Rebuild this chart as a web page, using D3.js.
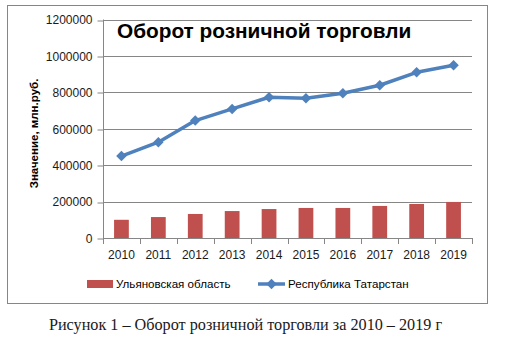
<!DOCTYPE html>
<html>
<head>
<meta charset="utf-8">
<script src="https://cdn.jsdelivr.net/npm/d3@7"></script>
<style>
  html, body { margin: 0; padding: 0; background: #fff; }
  svg { display: block; }
</style>
</head>
<body>
<svg id="chart" width="511" height="349"></svg>
<script>
// Retail turnover, mln rub.
const years = ["2010", "2011", "2012", "2013", "2014", "2015", "2016", "2017", "2018", "2019"];
const ulyanovsk = [100000, 115000, 132000, 148000, 159000, 165000, 165000, 176000, 187000, 198000];
const tatarstan = [450000, 526000, 645000, 709000, 773000, 768000, 795000, 839000, 910000, 949000];
const yTicks = [0, 200000, 400000, 600000, 800000, 1000000, 1200000];
const seriesNames = ["Ульяновская область", "Республика Татарстан"];

const barColor = "#C0504D";
const lineColor = "#4F81BD";
const gridColor = "#868686";
const sansFont = "'Liberation Sans', Arial, sans-serif";

const svg = d3.select("#chart");

// chart frame
svg.append("rect")
  .attr("x", 7.5).attr("y", 5.5)
  .attr("width", 480).attr("height", 298)
  .attr("fill", "#fff").attr("stroke", gridColor).attr("stroke-width", 1);

const plot = { left: 103, right: 472, top: 19.5, bottom: 238 };

const x = d3.scaleBand().domain(years).range([plot.left, plot.right]).paddingInner(0).paddingOuter(0);
const y = d3.scaleLinear().domain([0, 1200000]).range([plot.bottom, plot.top]);

// horizontal gridlines
svg.append("g")
  .selectAll("line")
  .data(yTicks.filter(d => d > 0))
  .join("line")
  .attr("x1", plot.left).attr("x2", plot.right)
  .attr("y1", d => Math.round(y(d)) + 0.5).attr("y2", d => Math.round(y(d)) + 0.5)
  .attr("stroke", gridColor).attr("stroke-width", 1);

// y axis
const yAxis = d3.axisLeft(y).tickValues(yTicks).tickSize(6).tickPadding(5).tickFormat(d3.format("d"));
const gy = svg.append("g")
  .attr("transform", `translate(${plot.left + 0.5},0.5)`)
  .call(yAxis);
gy.selectAll(".tick line").attr("stroke", gridColor)
  .attr("transform", d => `translate(0,${Math.round(y(d)) - y(d)})`);
gy.select(".domain").attr("stroke", gridColor).attr("d", `M0,${plot.top - 0.5}V${plot.bottom}`);
gy.selectAll(".tick text")
  .attr("font-family", sansFont).attr("font-size", 12).attr("fill", "#1a1a1a");

// x axis
const xAxis = d3.axisBottom(x).tickSize(0).tickPadding(12);
const gx = svg.append("g")
  .attr("transform", `translate(0,${plot.bottom + 0.5})`)
  .call(xAxis);
gx.select(".domain").attr("stroke", gridColor).attr("d", `M${plot.left},0H${plot.right}`);
gx.selectAll(".tick text")
  .attr("font-family", sansFont).attr("font-size", 12).attr("fill", "#1a1a1a");

// tick marks between categories
svg.append("g")
  .selectAll("line")
  .data(years.concat(["end"]))
  .join("line")
  .attr("x1", (d, i) => Math.round(plot.left + i * x.step()) + 0.5)
  .attr("x2", (d, i) => Math.round(plot.left + i * x.step()) + 0.5)
  .attr("y1", plot.bottom).attr("y2", plot.bottom + 6)
  .attr("stroke", gridColor);

// bars
const barW = x.bandwidth() * 0.4;
svg.append("g")
  .selectAll("rect")
  .data(ulyanovsk)
  .join("rect")
  .attr("x", (d, i) => x(years[i]) + (x.bandwidth() - barW) / 2)
  .attr("y", d => y(d))
  .attr("width", barW)
  .attr("height", d => y(0) - y(d))
  .attr("fill", barColor);

// line series
const line = d3.line()
  .x((d, i) => x(years[i]) + x.bandwidth() / 2)
  .y(d => y(d));
svg.append("path")
  .datum(tatarstan)
  .attr("d", line)
  .attr("fill", "none")
  .attr("stroke", lineColor)
  .attr("stroke-width", 3.5)
  .attr("stroke-linejoin", "round");

const diamond = d3.symbol().type(d3.symbolDiamond2).size(70);
svg.append("g")
  .selectAll("path")
  .data(tatarstan)
  .join("path")
  .attr("d", diamond)
  .attr("transform", (d, i) => `translate(${x(years[i]) + x.bandwidth() / 2},${y(d)})`)
  .attr("fill", lineColor);

// chart title
svg.append("text")
  .attr("x", 117).attr("y", 37.5)
  .attr("font-family", sansFont).attr("font-weight", "bold").attr("font-size", 20.8)
  .attr("fill", "#000")
  .text("Оборот розничной торговли");

// y axis title
svg.append("text")
  .attr("transform", "translate(37.5,133.5) rotate(-90)")
  .attr("text-anchor", "middle")
  .attr("font-family", sansFont).attr("font-weight", "bold").attr("font-size", 11.5)
  .attr("fill", "#000")
  .text("Значение, млн.руб.");

// legend
const legendY = 284;
svg.append("rect")
  .attr("x", 87).attr("y", legendY - 4).attr("width", 26).attr("height", 8)
  .attr("fill", barColor);
svg.append("text")
  .attr("x", 116).attr("y", legendY + 4)
  .attr("font-family", sansFont).attr("font-size", 11.6).attr("fill", "#000")
  .text(seriesNames[0]);
svg.append("line")
  .attr("x1", 258).attr("x2", 285).attr("y1", legendY).attr("y2", legendY)
  .attr("stroke", lineColor).attr("stroke-width", 3.5);
svg.append("path")
  .attr("d", diamond)
  .attr("transform", `translate(271.5,${legendY})`)
  .attr("fill", lineColor);
svg.append("text")
  .attr("x", 288).attr("y", legendY + 4)
  .attr("font-family", sansFont).attr("font-size", 11.6).attr("fill", "#000")
  .text(seriesNames[1]);

// figure caption
svg.append("text")
  .attr("x", 245.5).attr("y", 330)
  .attr("text-anchor", "middle")
  .attr("font-family", "'Liberation Serif', 'Times New Roman', serif").attr("font-size", 16.2)
  .attr("fill", "#1a1a1a")
  .text("Рисунок 1 – Оборот розничной торговли за 2010 – 2019 г");
</script>
</body>
</html>
